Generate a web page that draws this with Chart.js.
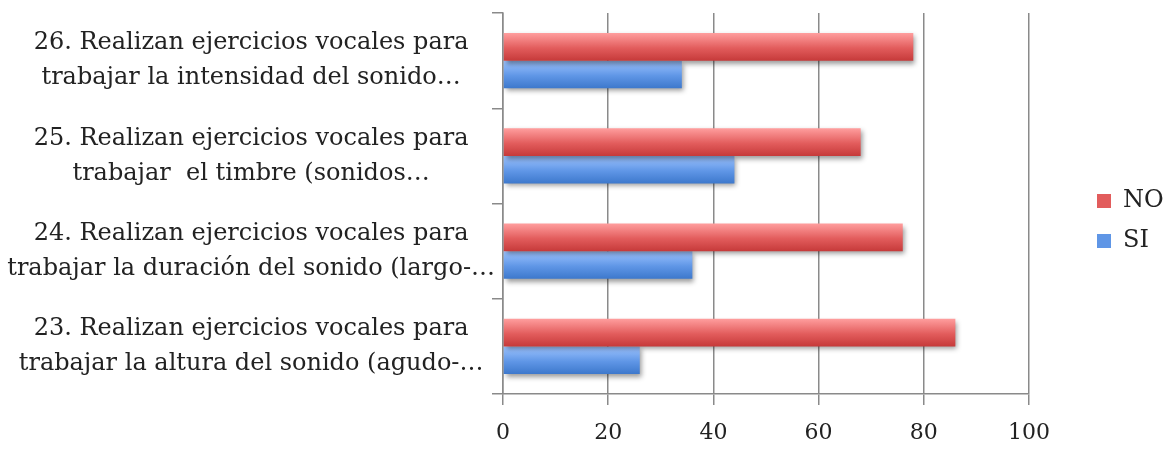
<!DOCTYPE html>
<html>
<head>
<meta charset="utf-8">
<script src="https://cdn.jsdelivr.net/npm/chart.js@4.4.1/dist/chart.umd.min.js"></script>
<style>
  html, body { margin: 0; padding: 0; background: #fff; }
  #wrap { width: 1166px; height: 449px; }
</style>
</head>
<body>
<div id="wrap"><canvas id="myBarChart"></canvas></div>
<script>
// categories, top to bottom
const categories = [
  ["26. Realizan ejercicios vocales para", "trabajar la intensidad del sonido…"],
  ["25. Realizan ejercicios vocales para", "trabajar  el timbre (sonidos…"],
  ["24. Realizan ejercicios vocales para", "trabajar la duración del sonido (largo-…"],
  ["23. Realizan ejercicios vocales para", "trabajar la altura del sonido (agudo-…"]
];
const noValues = [78, 68, 76, 86];
const siValues = [34, 44, 36, 26];
const xTicks = [0, 20, 40, 60, 80, 100];

const FONT = "'DejaVu Serif', 'Liberation Serif', serif";
const CAT_PCT = 0.58;

// vertical gradient for each bar, worked out from the y scale
function barFill(light, dark, solid, upper) {
  return function (context) {
    const chart = context.chart;
    if (context.type !== 'data' || !chart.chartArea || !chart.scales.y) return solid;
    const y = chart.scales.y;
    const c = y.getPixelForValue(context.dataIndex);
    const half = (y.height / categories.length) * CAT_PCT / 2;
    const y0 = upper ? c - half : c;
    const g = chart.ctx.createLinearGradient(0, y0, 0, y0 + half);
    g.addColorStop(0, light);
    g.addColorStop(0.55, solid);
    g.addColorStop(1, dark);
    return g;
  };
}

const barShadow = {
  id: 'barShadow',
  beforeDatasetsDraw(chart) {
    const ctx = chart.ctx;
    ctx.save();
    ctx.shadowColor = 'rgba(0,0,0,0.4)';
    ctx.shadowBlur = 5;
    ctx.shadowOffsetX = 2;
    ctx.shadowOffsetY = 3;
  },
  afterDatasetsDraw(chart) {
    chart.ctx.restore();
  }
};

// legend sits further right than Chart.js would put it
const legendGap = {
  id: 'legendGap',
  afterInit(chart) {
    const lg = chart.legend;
    const fit = lg.fit;
    lg.fit = function () {
      fit.call(this);
      this.width = 137;
    };
  },
  afterLayout(chart) {
    const lg = chart.legend;
    lg.left += 52;
    lg.top -= 10;
    lg.bottom -= 10;
  }
};

function setupBarChart() {
  var ctx = document.getElementById("myBarChart");
  if (!ctx) {
    console.error("Canvas for myBarChart not found!");
    return null;
  }
  return new Chart(ctx, {
    type: 'bar',
    data: {
      labels: categories,
      datasets: [
        {
          label: 'NO',
          data: noValues,
          backgroundColor: barFill('#ff9e9e', '#c63a3a', '#e25c5c', true),
          categoryPercentage: CAT_PCT,
          barPercentage: 1
        },
        {
          label: 'SI',
          data: siValues,
          backgroundColor: barFill('#9ec4ff', '#3d78cc', '#5f96e6', false),
          categoryPercentage: CAT_PCT,
          barPercentage: 1
        }
      ]
    },
    options: {
      indexAxis: 'y',
      responsive: true,
      maintainAspectRatio: false,
      animation: false,
      layout: { padding: { top: 13, right: 0, bottom: 0, left: 0 } },
      scales: {
        x: {
          min: 0,
          max: 100,
          afterBuildTicks: function (scale) {
            scale.ticks = xTicks.map(v => ({ value: v }));
          },
          afterFit: function (scale) { scale.height = 55; },
          grid: { color: '#8a8a8a', lineWidth: 1.5, tickLength: 11 },
          border: { color: '#8a8a8a', width: 1.5 },
          ticks: { color: '#222', font: { family: FONT, size: 22, lineHeight: 1 }, padding: 17 }
        },
        y: {
          afterFit: function (scale) {
            scale.width = 503;
            scale.paddingTop = 0;
            scale.paddingBottom = 0;
          },
          grid: { drawOnChartArea: false, color: '#8a8a8a', lineWidth: 1.5, tickLength: 11 },
          border: { color: '#8a8a8a', width: 1.5 },
          ticks: {
            color: '#222',
            crossAlign: 'center',
            padding: -3,
            font: { family: FONT, size: 24, lineHeight: 1.45 }
          }
        }
      },
      plugins: {
        legend: {
          position: 'right',
          labels: {
            color: '#222',
            boxWidth: 14,
            boxHeight: 14,
            padding: 16,
            font: { family: FONT, size: 24 },
            generateLabels: function (chart) {
              const solid = ['#e25c5c', '#5f96e6'];
              return chart.data.datasets.map((ds, i) => ({
                text: ds.label,
                fillStyle: solid[i],
                strokeStyle: '#fff',
                lineWidth: 0,
                datasetIndex: i,
                fontColor: '#222'
              }));
            }
          }
        },
        tooltip: { enabled: false }
      }
    },
    plugins: [barShadow, legendGap]
  });
}

setupBarChart();
</script>
</body>
</html>
